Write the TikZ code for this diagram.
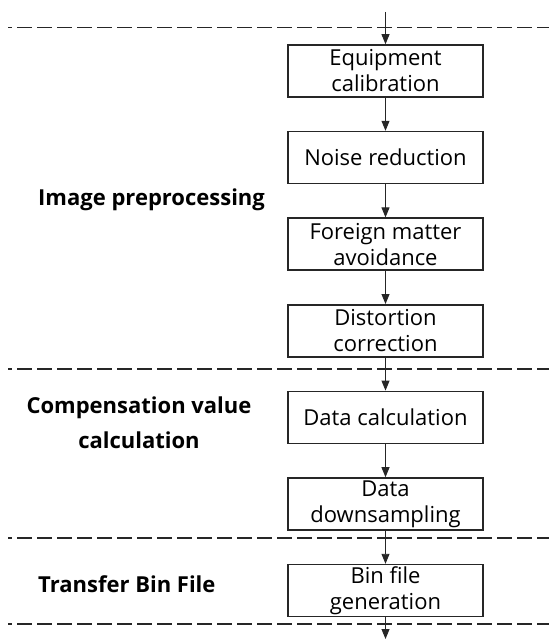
\documentclass[tikz,border=0pt]{standalone}
\usepackage{fontspec}
\setmainfont{Open Sans}
\usetikzlibrary{arrows.meta, positioning}

\begin{document}
\begin{tikzpicture}[x=1pt, y=-1pt,
    proc/.style={draw=black!85, line width=1.6pt, minimum width=195pt, minimum height=52pt,
                 align=center, inner sep=0pt, font=\fontsize{22}{26}\selectfont},
    flow/.style={-{Triangle[length=10pt,width=8pt]}, line width=0.9pt, black!85},
    sep/.style={black!85, line width=1.6pt, dash pattern=on 15pt off 5pt, dash phase=10.7pt},
    stage/.style={font=\fontsize{22}{35}\selectfont\bfseries, inner sep=0pt},
    node distance=33pt]
    \useasboundingbox (0,0) rectangle (549,639);

    % Stage separators
    \draw[sep] (8,27.7) -- (549,27.7);
    \draw[sep] (8,369) -- (549,369);
    \draw[sep] (8,538) -- (549,538);
    \draw[sep] (8,624) -- (549,624);

    % Processing steps
    \node[proc] (calib) at (385.5,71) {Equipment\\calibration};
    \node[proc, below=of calib] (noise) {Noise reduction};
    \node[proc, below=of noise] (foreign) {Foreign matter\\avoidance};
    \node[proc, below=of foreign] (distort) {Distortion\\correction};
    \node[proc, below=of distort] (datacalc) {Data calculation};
    \node[proc, below=of datacalc] (downsamp) {Data\\downsampling};
    \node[proc, below=of downsamp] (binfile) {Bin file\\generation};

    % Flow arrows
    \coordinate (in) at (385.5,12);
    \coordinate (out) at (385.5,639);
    \draw[flow] (in) -- (calib);
    \draw[flow] (calib) -- (noise);
    \draw[flow] (noise) -- (foreign);
    \draw[flow] (foreign) -- (distort);
    \draw[flow] (distort) -- (datacalc);
    \draw[flow] (datacalc) -- (downsamp);
    \draw[flow] (downsamp) -- (binfile);
    \draw[flow] (binfile) -- (out);

    % Stage labels
    \node[stage, anchor=base west] (pre) at (38,205) {Image preprocessing};
    \node[stage, anchor=base, align=center] (comp) at (139,448) {Compensation value\\calculation};
    \node[stage, anchor=base west] (transfer) at (38,592) {Transfer Bin File};
\end{tikzpicture}
\end{document}
